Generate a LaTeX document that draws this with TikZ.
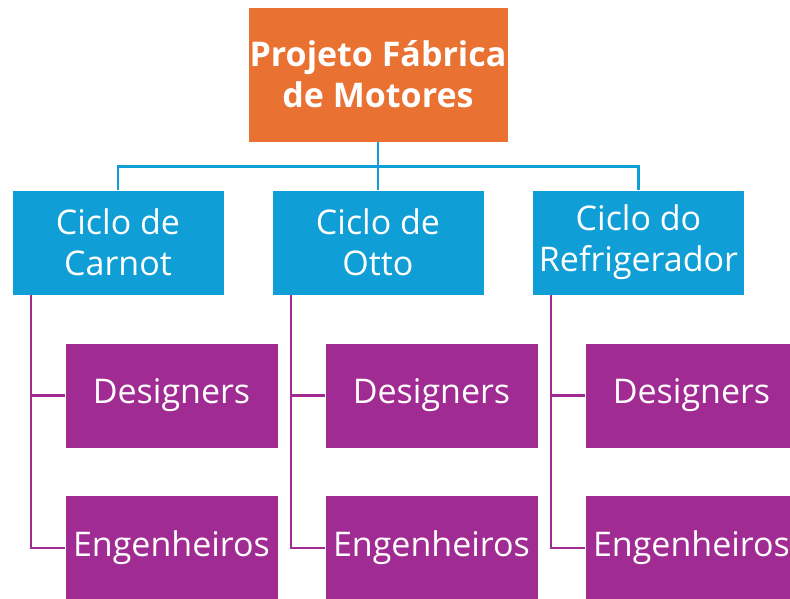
\documentclass[tikz,border=0pt]{standalone}
\usepackage{fontspec}
\setmainfont{Open Sans}
\usepackage{xcolor}
\usepackage{tikz}
\usetikzlibrary{calc,positioning}
\definecolor{chief}{HTML}{E97132}
\definecolor{cycle}{HTML}{0F9ED5}
\definecolor{team}{HTML}{A02B93}
\tikzset{
  topbox/.style={fill=chief, draw=white, line width=0.6pt, text=white, font=\fontsize{34}{41}\selectfont\bfseries,
    minimum width=260pt, minimum height=135pt, align=center, inner sep=0pt},
  cyclebox/.style={fill=cycle, draw=white, line width=0.6pt, text=white, font=\fontsize{34}{41}\selectfont,
    minimum width=212pt, minimum height=105pt, align=center, inner sep=0pt},
  teambox/.style={fill=team, draw=white, line width=0.6pt, text=white, font=\fontsize{34}{41}\selectfont,
    minimum width=213pt, minimum height=105pt, align=center, inner sep=0pt},
  bline/.style={draw=cycle, line width=2.6pt},
  pline/.style={draw=team, line width=2.2pt},
}
\begin{document}
\begin{tikzpicture}[x=1pt,y=-1pt]
  \useasboundingbox (0,0) rectangle (790,599);
  % top level
  \node[topbox] (proj) at (378,74.5) {Projeto Fábrica\\de Motores};
  % cycles
  \node[cyclebox] (carnot) at (118,242.5) {Ciclo de\\Carnot};
  \node[cyclebox] (otto) at (378,242.5) {Ciclo de\\Otto};
  \node[cyclebox] (refri) at (638.5,242.5) {Ciclo do\\Refrigerador};
  % teams
  \node[teambox] (des1) at (171.5,395.5) {Designers};
  \node[teambox] (eng1) at (171.5,548) {Engenheiros};
  \node[teambox] (des2) at (431.5,395.5) {Designers};
  \node[teambox] (eng2) at (431.5,548) {Engenheiros};
  \node[teambox] (des3) at (691.5,395.5) {Designers};
  \node[teambox] (eng3) at (691.5,548) {Engenheiros};
  % connectors
  \draw[bline] (proj.south) -- ++(0,24) -| (carnot.north);
  \draw[bline] (proj.south) -- (otto.north);
  \draw[bline] (proj.south) -- ++(0,24) -| (refri.north);
  \draw[pline] ($(carnot.south west)+(19,0)$) |- (des1.west);
  \draw[pline] ($(carnot.south west)+(19,0)$) |- (eng1.west);
  \draw[pline] ($(otto.south west)+(19,0)$) |- (des2.west);
  \draw[pline] ($(otto.south west)+(19,0)$) |- (eng2.west);
  \draw[pline] ($(refri.south west)+(19,0)$) |- (des3.west);
  \draw[pline] ($(refri.south west)+(19,0)$) |- (eng3.west);
\end{tikzpicture}
\end{document}
